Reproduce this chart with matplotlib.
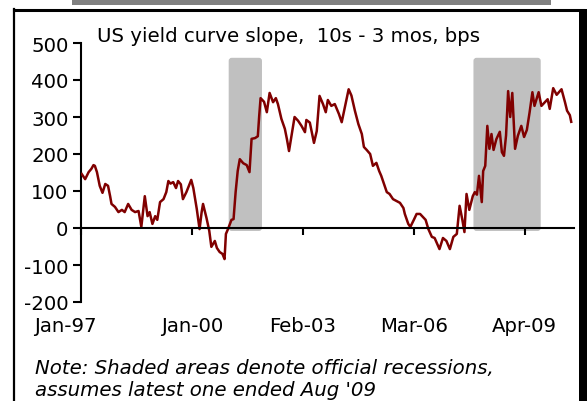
import numpy as np
import matplotlib
matplotlib.use("Agg")
import matplotlib.pyplot as plt
from matplotlib.patches import FancyBboxPatch, Rectangle

# weekly index, week 0 = early Jan 1997
weeks = [1, 6, 11, 15, 18, 20, 23, 27, 31, 35, 39, 42, 44, 49, 54, 59, 63, 68, 73, 78,
         83, 87, 92, 96, 99, 103, 107, 110, 114, 119, 123, 126, 129, 133, 137, 140, 144, 147, 152, 159,
         162, 167, 171, 174, 176, 181, 185, 188, 193, 196, 200, 204, 207, 209, 212, 217, 220, 223, 226, 229,
         234, 239, 243, 246, 251, 255, 257, 259, 264, 268, 272, 277, 281, 284, 289, 294, 297, 300, 304, 308,
         313, 318, 323, 325, 330, 336, 340, 344, 349, 353, 356, 361, 366, 372, 376, 381, 386, 390, 395, 400,
         405, 408, 412, 417, 421, 426, 430, 433, 438, 441, 445, 450, 455, 460, 465, 467, 472, 475, 480, 484,
         489, 493, 497, 501, 506, 510, 517, 522, 527, 532, 537, 542, 546, 550, 553, 556, 560, 565, 568, 571,
         574, 578, 580, 583, 586, 589, 592, 595, 599, 604, 607, 610, 613, 616, 619, 622, 626, 630, 635, 639,
         643, 647, 651, 654, 660, 664, 669, 673, 676, 681, 686, 693, 698, 701, 705, 707]
slope_bps = [146, 132, 151, 160, 170, 168, 151, 114, 95, 119, 114, 86, 65, 57, 43, 49, 43, 65, 49, 43,
             46, 3, 86, 32, 43, 11, 32, 22, 70, 78, 97, 127, 120, 124, 108, 127, 118, 78, 97, 130,
             108, 51, -3, 43, 65, 27, -8, -51, -35, -54, -65, -70, -84, -16, -3, 22, 24, 97, 154, 186,
             175, 170, 151, 241, 243, 248, 303, 351, 341, 313, 365, 340, 351, 335, 295, 268, 240, 208, 254, 300,
             290, 276, 259, 292, 285, 230, 262, 357, 335, 313, 346, 330, 335, 308, 286, 330, 375, 358, 317, 281,
             254, 219, 211, 200, 168, 176, 154, 141, 114, 97, 92, 78, 73, 68, 54, 38, 11, 3, 22, 38,
             38, 30, 22, -3, -24, -27, -57, -27, -35, -57, -24, -16, 60, 22, -11, 92, 49, 86, 97, 90,
             141, 70, 154, 168, 276, 214, 254, 211, 240, 260, 205, 195, 250, 370, 300, 365, 214, 249, 276, 246,
             265, 313, 367, 330, 367, 330, 340, 348, 322, 378, 360, 375, 340, 317, 305, 287]

tick_weeks = [0, 160, 320, 480, 640]
tick_labels = ["Jan-97", "Jan-00", "Feb-03", "Mar-06", "Apr-09"]

# recessions (weeks)
rec_start = [213, 566]
rec_end = [261, 663]

plt.rcParams['font.family'] = 'DejaVu Sans'
plt.rcParams['axes.unicode_minus'] = False
fs = 14.2

fig = plt.figure(figsize=(5.87, 4.02), dpi=100)
W, H = 587, 402

# frame and top bar
fig.patches.append(Rectangle((72 / W, 1 - 6 / H), (551 - 72) / W, 6 / H, transform=fig.transFigure,
                             facecolor="#808080", edgecolor="none"))
fig.add_artist(plt.Line2D([14 / W, 14 / W], [0, 1 - 10 / H], color="black", lw=1.6))
fig.add_artist(plt.Line2D([14 / W, 583 / W], [1 - 10.5 / H, 1 - 10.5 / H], color="black", lw=2.2))
fig.patches.append(Rectangle((579 / W, 0), 8 / W, 1 - 9.5 / H, transform=fig.transFigure,
                             facecolor="black", edgecolor="none"))

ax = fig.add_axes([81 / W, 99 / H, (574 - 81) / W, (303 - 44) / H])
ax.set_xlim(0, 711)
ax.set_ylim(-200, 500)

xpp = 711 / (574 - 81)
ypp = 700 / (303 - 44)
for s, e in zip(rec_start, rec_end):
    ax.add_patch(FancyBboxPatch((s, -8), e - s, 468,
                                boxstyle="round,pad=0,rounding_size=%f" % (3 * xpp),
                                mutation_aspect=ypp / xpp,
                                facecolor="#c0c0c0", edgecolor="none", zorder=1))

ax.plot(weeks, slope_bps, color="#800000", lw=1.8, zorder=3)

ax.spines['top'].set_visible(False)
ax.spines['right'].set_visible(False)
ax.spines['left'].set_linewidth(1.5)
ax.spines['bottom'].set_position(('data', 0))
ax.spines['bottom'].set_linewidth(1.5)
ax.spines['bottom'].set_zorder(4)

ax.set_yticks(np.arange(-200, 501, 100))
ax.tick_params(axis='y', direction='out', length=6, width=1.5, labelsize=fs, pad=3)
ax.set_xticks(tick_weeks)
ax.set_xticklabels([])
ax.tick_params(axis='x', direction='out', length=5, width=1.5)

xt = ax.get_xaxis_transform()
for i, (tw, lab) in enumerate(zip(tick_weeks, tick_labels)):
    off = -22 if i == 0 else 0
    ax.text(tw + off, -24 / 259, lab, transform=xt, ha='center', va='center', fontsize=fs)

fig.text(97 / W, 1 - 37 / H, "US yield curve slope,  10s - 3 mos, bps", fontsize=fs,
         ha='left', va='center')
fig.text(35 / W, 1 - 368 / H, "Note: Shaded areas denote official recessions,", fontsize=fs,
         style='italic', ha='left', va='center')
fig.text(35 / W, 1 - 391 / H, "assumes latest one ended Aug '09", fontsize=fs,
         style='italic', ha='left', va='center')

fig.savefig("out.png", dpi=100)
